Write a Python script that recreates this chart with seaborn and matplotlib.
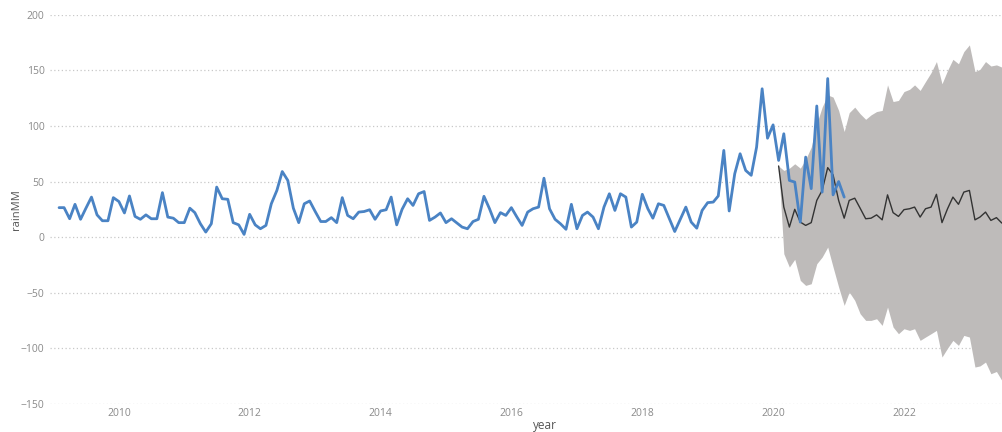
import pandas as pd
import matplotlib
matplotlib.use('Agg')
import matplotlib.pyplot as plt
import matplotlib.dates as mdates
import seaborn as sns

# Style
sns.set_style('white')
plt.rcParams['font.family'] = ['Open Sans', 'DejaVu Sans']

## Data ---------------------------------------------------------------
# monthly rainfall (mm), Jan 2009 - Jan 2021
rain_mm = [26.5, 26.5, 16.5, 29.5, 16, 26, 36, 20, 14.7, 14.7, 35.5, 32,
           21.7, 37, 18.6, 16, 20, 16.5, 16.5, 40, 18, 17, 13, 13,
           26, 22, 12, 4.5, 12, 45, 34.5, 34, 13, 11, 2.4, 20.5,
           11, 7.5, 10.5, 30, 42, 59, 51, 26, 13, 30, 32.5, 23,
           14, 14, 17.5, 13, 35.5, 19.5, 16.5, 22.5, 23, 24.6, 16, 23.5,
           24.6, 36, 11, 25, 34.5, 28.5, 39, 41, 15, 18, 21.7, 13,
           16.5, 13, 9, 7.5, 14, 16, 36.7, 25.5, 13, 22, 19.5, 26.5,
           18, 10.5, 22.5, 25.5, 27, 53, 25.5, 16, 12, 7, 29.5, 7.5,
           19.5, 22.5, 18, 7.5, 27, 39, 24, 39, 36, 9, 13.5, 38.5,
           25.5, 17, 30, 28.5, 16.5, 5, 16, 27, 13.5, 8, 24, 31,
           31.5, 37, 78, 23.5, 57, 75, 60, 55.6, 81, 133.5, 89, 101,
           69, 93, 51, 49.5, 13.5, 72, 43.6, 118, 40.5, 142.7, 38, 50,
           36]

# forecast from Jan 2020 with its interval
fc_mean = [64, 27, 9, 25, 13.5, 10.5, 13, 33, 42, 62.5, 56, 33,
           17, 33, 35, 26, 16.5, 17, 20, 15.5, 38, 22, 18.6, 24.7,
           25.5, 27, 18, 25.5, 27, 38.5, 13, 25.5, 36, 29.5, 40.5, 42,
           15.5, 18, 22.5, 15, 17.5, 12.6]
fc_upper = [64, 60, 62, 66, 62, 70, 81, 102, 117, 128, 126, 114,
            95, 112, 117, 111, 106, 110, 113, 114, 137, 122, 123, 131,
            133, 137, 132, 140, 148, 158, 138, 150, 160, 156, 167, 173,
            149, 151, 158, 154, 155, 153]
fc_lower = [64, -15, -27, -20, -39, -43.5, -42, -24, -18, -9, -27, -45,
            -61.5, -49.5, -57, -69, -75, -75, -73.5, -79.5, -63, -81, -87, -82.5,
            -84, -82.5, -93, -90, -87, -84, -108, -100, -93, -97.5, -88.5, -90,
            -117, -116, -112.5, -123, -121, -129]

months = pd.date_range('2009-01-31', periods=len(rain_mm), freq='ME')
fc_months = pd.date_range('2020-01-31', periods=len(fc_mean), freq='ME')

df = pd.DataFrame({'year': months, 'rainMM': rain_mm})
fc = pd.DataFrame({'year': fc_months, 'rainMM': fc_mean,
                   'upper': fc_upper, 'lower': fc_lower})

## Plot ---------------------------------------------------------------
fig = plt.figure(figsize=(10.02, 4.32), dpi=100)
ax = fig.add_axes([0.05, 0.0655, 0.95, 0.90])

ax.fill_between(fc['year'], fc['lower'], fc['upper'], color='#bebbba', linewidth=0, zorder=1)
sns.lineplot(data=fc, x='year', y='rainMM', color='#333333', linewidth=1, ax=ax, zorder=2)
sns.lineplot(data=df, x='year', y='rainMM', color='#4a83c4', linewidth=2.0, ax=ax, zorder=3)

ax.set_ylim(-150, 200)
ax.set_yticks(range(-150, 201, 50))
ax.set_xlim(pd.Timestamp('2008-12-12'), pd.Timestamp('2023-07-01'))
ax.xaxis.set_major_locator(mdates.YearLocator(2))
ax.xaxis.set_major_formatter(mdates.DateFormatter('%Y'))

ax.yaxis.grid(True, linestyle=(0, (1, 2)), color='#c8c8c8', linewidth=0.9)
ax.xaxis.grid(False)
ax.set_axisbelow(True)
for s in ax.spines.values():
    s.set_visible(False)

ax.tick_params(axis='both', length=0, labelsize=7.5, colors='#8a8a8a')
ax.tick_params(axis='y', pad=4)
ax.tick_params(axis='x', pad=3)

ax.set_ylabel('rainMM', fontsize=8, color='#555555')
ax.set_xlabel('year', fontsize=8.5, color='#555555')
ax.yaxis.set_label_coords(-0.029, 0.50)
ax.xaxis.set_label_coords(0.52, -0.040)

fig.savefig('out.png', dpi=100)
